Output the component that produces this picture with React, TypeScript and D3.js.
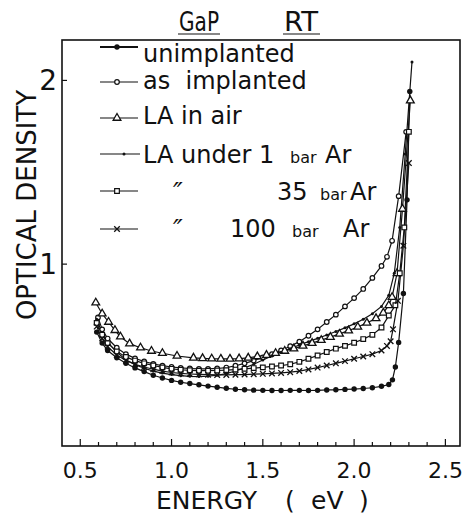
import React from 'react';
import * as d3 from 'd3';

// energy (eV), optical density
const unimplanted: [number, number][] = [
  [0.59, 0.63], [0.62, 0.57], [0.65, 0.53], [0.70, 0.49], [0.75, 0.46], [0.80, 0.435], [0.85, 0.415],
  [0.90, 0.395], [0.95, 0.38], [1.00, 0.367], [1.05, 0.357], [1.10, 0.35], [1.15, 0.343], [1.20, 0.336],
  [1.25, 0.33], [1.30, 0.324], [1.35, 0.319], [1.40, 0.316], [1.45, 0.314], [1.50, 0.313], [1.55, 0.312],
  [1.60, 0.312], [1.65, 0.313], [1.70, 0.313], [1.75, 0.312], [1.80, 0.313], [1.85, 0.315], [1.90, 0.316],
  [1.95, 0.318], [2.00, 0.32], [2.05, 0.323], [2.10, 0.327], [2.15, 0.335], [2.19, 0.345], [2.21, 0.37],
  [2.226, 0.44], [2.244, 0.574], [2.27, 0.84], [2.29, 1.35], [2.305, 1.94],
];
const asImplanted: [number, number][] = [
  [0.597, 0.71], [0.62, 0.645], [0.65, 0.595], [0.70, 0.545], [0.75, 0.51], [0.80, 0.487], [0.85, 0.47],
  [0.90, 0.457], [0.95, 0.447], [1.00, 0.44], [1.05, 0.435], [1.10, 0.432], [1.15, 0.43], [1.20, 0.43],
  [1.25, 0.432], [1.30, 0.437], [1.35, 0.447], [1.40, 0.46], [1.45, 0.475], [1.50, 0.492], [1.55, 0.51],
  [1.60, 0.53], [1.65, 0.553], [1.70, 0.578], [1.75, 0.61], [1.80, 0.645], [1.85, 0.685], [1.90, 0.725],
  [1.95, 0.77], [2.00, 0.815], [2.05, 0.865], [2.10, 0.925], [2.15, 0.99], [2.18, 1.04], [2.208, 1.127],
  [2.244, 1.37], [2.285, 1.72],
];
const laInAir: [number, number][] = [
  [0.585, 0.79], [0.62, 0.73], [0.655, 0.685], [0.69, 0.64], [0.72, 0.605], [0.77, 0.567], [0.83, 0.545],
  [0.89, 0.527], [0.95, 0.515], [1.03, 0.5], [1.12, 0.49], [1.17, 0.487], [1.22, 0.485], [1.27, 0.484],
  [1.32, 0.484], [1.37, 0.486], [1.42, 0.49], [1.47, 0.497], [1.52, 0.505], [1.57, 0.515], [1.62, 0.527],
  [1.67, 0.54], [1.72, 0.555], [1.77, 0.57], [1.82, 0.586], [1.87, 0.603], [1.92, 0.62], [1.97, 0.638],
  [2.02, 0.658], [2.07, 0.68], [2.12, 0.705], [2.16, 0.735], [2.19, 0.775], [2.208, 0.82], [2.235, 0.95],
  [2.265, 1.3], [2.308, 1.89],
];
const laOneBar: [number, number][] = [
  [0.59, 0.70], [0.62, 0.625], [0.65, 0.575], [0.70, 0.52], [0.75, 0.48], [0.80, 0.453], [0.85, 0.433],
  [0.90, 0.418], [0.95, 0.407], [1.00, 0.399], [1.05, 0.393], [1.10, 0.389], [1.15, 0.388], [1.20, 0.39],
  [1.25, 0.395], [1.30, 0.404], [1.35, 0.418], [1.40, 0.435], [1.45, 0.455], [1.50, 0.478], [1.55, 0.5],
  [1.60, 0.52], [1.65, 0.54], [1.70, 0.56], [1.75, 0.578], [1.80, 0.596], [1.85, 0.614], [1.90, 0.633],
  [1.95, 0.653], [2.00, 0.675], [2.05, 0.7], [2.10, 0.73], [2.15, 0.77], [2.19, 0.83], [2.22, 0.95],
  [2.25, 1.2], [2.28, 1.6], [2.317, 2.1],
];
const la35Bar: [number, number][] = [
  [0.59, 0.68], [0.62, 0.615], [0.65, 0.57], [0.70, 0.525], [0.75, 0.495], [0.80, 0.475], [0.85, 0.46],
  [0.90, 0.448], [0.95, 0.438], [1.00, 0.43], [1.05, 0.425], [1.10, 0.422], [1.15, 0.42], [1.20, 0.42],
  [1.25, 0.421], [1.30, 0.423], [1.35, 0.426], [1.40, 0.43], [1.45, 0.434], [1.50, 0.438], [1.55, 0.443],
  [1.60, 0.448], [1.65, 0.455], [1.70, 0.468], [1.75, 0.485], [1.80, 0.503], [1.85, 0.522], [1.90, 0.54],
  [1.95, 0.555], [2.00, 0.572], [2.05, 0.592], [2.10, 0.615], [2.15, 0.655], [2.19, 0.72], [2.226, 0.776],
  [2.25, 0.95], [2.275, 1.2], [2.30, 1.72],
];
const la100Bar: [number, number][] = [
  [0.59, 0.66], [0.62, 0.595], [0.65, 0.55], [0.70, 0.505], [0.75, 0.475], [0.80, 0.455], [0.85, 0.44],
  [0.90, 0.428], [0.95, 0.418], [1.00, 0.41], [1.05, 0.405], [1.10, 0.402], [1.15, 0.4], [1.20, 0.398],
  [1.25, 0.397], [1.30, 0.397], [1.35, 0.398], [1.40, 0.399], [1.45, 0.401], [1.50, 0.403], [1.55, 0.405],
  [1.60, 0.408], [1.65, 0.412], [1.70, 0.418], [1.75, 0.427], [1.80, 0.437], [1.85, 0.448], [1.90, 0.46],
  [1.95, 0.472], [2.00, 0.485], [2.05, 0.497], [2.10, 0.51], [2.15, 0.53], [2.18, 0.555], [2.20, 0.58],
  [2.213, 0.645], [2.24, 0.8], [2.27, 1.1], [2.30, 1.55],
];

const xTickValues = [0.5, 1.0, 1.5, 2.0, 2.5];
const xTickLabels = ['0.5', '1.0', '1.5', '2.0', '2.5'];
const yTickValues = [1, 2];
const yTickLabels = ['1', '2'];

type Mark = 'filled' | 'open' | 'triangle' | 'dot' | 'square' | 'cross';

const series: { name: string; mark: Mark; data: [number, number][] }[] = [
  { name: 'unimplanted', mark: 'filled', data: unimplanted },
  { name: 'as implanted', mark: 'open', data: asImplanted },
  { name: 'LA in air', mark: 'triangle', data: laInAir },
  { name: 'LA under 1 bar Ar', mark: 'dot', data: laOneBar },
  { name: '35 bar Ar', mark: 'square', data: la35Bar },
  { name: '100 bar Ar', mark: 'cross', data: la100Bar },
];

const W = 467;
const H = 523;
const font = '"DejaVu Sans", sans-serif';
const ink = '#111';

const x = d3.scaleLinear().domain([0.4, 2.58]).range([62, 460]);
const y = d3.scaleLinear().domain([0.01, 2.22]).range([446, 40]);

const line = d3.line<[number, number]>().x(d => x(d[0])).y(d => y(d[1]));

const Marker = ({ mark, cx, cy }: { mark: Mark; cx: number; cy: number }) => {
  const t = `translate(${cx},${cy})`;
  switch (mark) {
    case 'filled':
      return <circle cx={cx} cy={cy} r={2.7} fill={ink} />;
    case 'open':
      return <circle cx={cx} cy={cy} r={2.3} fill="#fff" stroke={ink} strokeWidth={1.2} />;
    case 'dot':
      return <circle cx={cx} cy={cy} r={1.5} fill={ink} />;
    case 'triangle':
      return <path transform={t} d={d3.symbol(d3.symbolTriangle, 26)()!} fill="#fff" stroke={ink} strokeWidth={1.3} />;
    case 'square':
      return <path transform={t} d={d3.symbol(d3.symbolSquare, 22)()!} fill="#fff" stroke={ink} strokeWidth={1.2} />;
    case 'cross':
      return <path transform={t} d={d3.symbol(d3.symbolX, 22)()!} fill="none" stroke={ink} strokeWidth={1.3} />;
  }
};

const legendLineY = [47, 82, 118, 154, 191, 229];
const legendTextY = [62, 89, 124, 163, 200, 237];

export default function App() {
  const minorTicks = d3.range(5, 26).map(i => i / 10);
  return (
    <svg width={W} height={H} style={{ position: 'absolute', left: 0, top: 0, background: '#fff' }}
      fontFamily={font}>
      {/* title */}
      <text x={199} y={31} fontSize={27} textAnchor="middle" fill={ink}
        textLength={40} lengthAdjust="spacingAndGlyphs">GaP</text>
      <text x={301} y={31} fontSize={27} textAnchor="middle" fill={ink}
        textLength={34} lengthAdjust="spacingAndGlyphs">RT</text>
      <line x1={178} x2={220} y1={34} y2={34} stroke={ink} strokeWidth={1.2} />
      <line x1={283} x2={320} y1={34} y2={34} stroke={ink} strokeWidth={1.2} />

      {/* frame */}
      <rect x={x(0.4)} y={y(2.22)} width={x(2.58) - x(0.4)} height={y(0.01) - y(2.22)}
        fill="none" stroke={ink} strokeWidth={1.6} />

      {/* x ticks */}
      {minorTicks.map(v => (
        <line key={v} x1={x(v)} x2={x(v)} y1={y(0.01)} y2={y(0.01) - (Math.round(v * 10) % 5 === 0 ? 7 : 4)}
          stroke={ink} strokeWidth={1.2} />
      ))}
      {xTickValues.map((v, i) => (
        <text key={v} x={x(v)} y={478} fontSize={22} textAnchor="middle" fill={ink}>{xTickLabels[i]}</text>
      ))}
      {/* y ticks */}
      {yTickValues.map((v, i) => (
        <g key={v}>
          <line x1={x(0.4)} x2={x(0.4) + 5} y1={y(v)} y2={y(v)} stroke={ink} strokeWidth={1.2} />
          <text x={57} y={y(v) + 10} fontSize={28} textAnchor="end" fill={ink}>{yTickLabels[i]}</text>
        </g>
      ))}

      {/* axis titles */}
      <text x={0} y={0} transform="translate(36,205) rotate(-90)" fontSize={26} textAnchor="middle"
        fill={ink}>OPTICAL DENSITY</text>
      <text y={509} fontSize={25} fill={ink}>
        <tspan x={156}>ENERGY</tspan>
        <tspan x={285}>(</tspan>
        <tspan x={311}>eV</tspan>
        <tspan x={359}>)</tspan>
      </text>

      {/* curves */}
      {series.map(s => (
        <path key={s.name} d={line(s.data)!} fill="none" stroke={ink} strokeWidth={1.2} />
      ))}
      {series.map(s => (
        <g key={s.name + '-m'}>
          {s.data.map((d, i) => <Marker key={i} mark={s.mark} cx={x(d[0])} cy={y(d[1])} />)}
        </g>
      ))}

      {/* legend */}
      {series.map((s, i) => (
        <g key={s.name + '-l'}>
          <line x1={100} x2={i === 3 ? 140 : 138} y1={legendLineY[i]} y2={legendLineY[i]}
            stroke={ink} strokeWidth={i === 0 ? 2 : 1.2} />
          <Marker mark={s.mark} cx={i === 3 ? 124 : 117} cy={legendLineY[i]} />
        </g>
      ))}
      <text x={143} y={legendTextY[0]} fontSize={24} fill={ink}>unimplanted</text>
      <text x={143} y={legendTextY[1]} fontSize={24} fill={ink} style={{ whiteSpace: 'pre' }}>as  implanted</text>
      <text x={143} y={legendTextY[2]} fontSize={24} fill={ink}>LA in air</text>
      <text y={legendTextY[3]} fontSize={24} fill={ink}>
        <tspan x={143}>LA under 1</tspan>
        <tspan x={290} fontSize={16}>bar</tspan>
        <tspan x={325}>Ar</tspan>
      </text>
      <text x={173} y={legendTextY[4] + 2} fontSize={26} fontStyle="italic" fill={ink}>″</text>
      <text y={legendTextY[4]} fontSize={24} fill={ink}>
        <tspan x={277}>35</tspan>
        <tspan x={320} fontSize={16}>bar</tspan>
        <tspan x={350}>Ar</tspan>
      </text>
      <text x={173} y={legendTextY[5] + 2} fontSize={26} fontStyle="italic" fill={ink}>″</text>
      <text y={legendTextY[5]} fontSize={24} fill={ink}>
        <tspan x={230}>100</tspan>
        <tspan x={292} fontSize={16}>bar</tspan>
        <tspan x={343}>Ar</tspan>
      </text>
    </svg>
  );
}
